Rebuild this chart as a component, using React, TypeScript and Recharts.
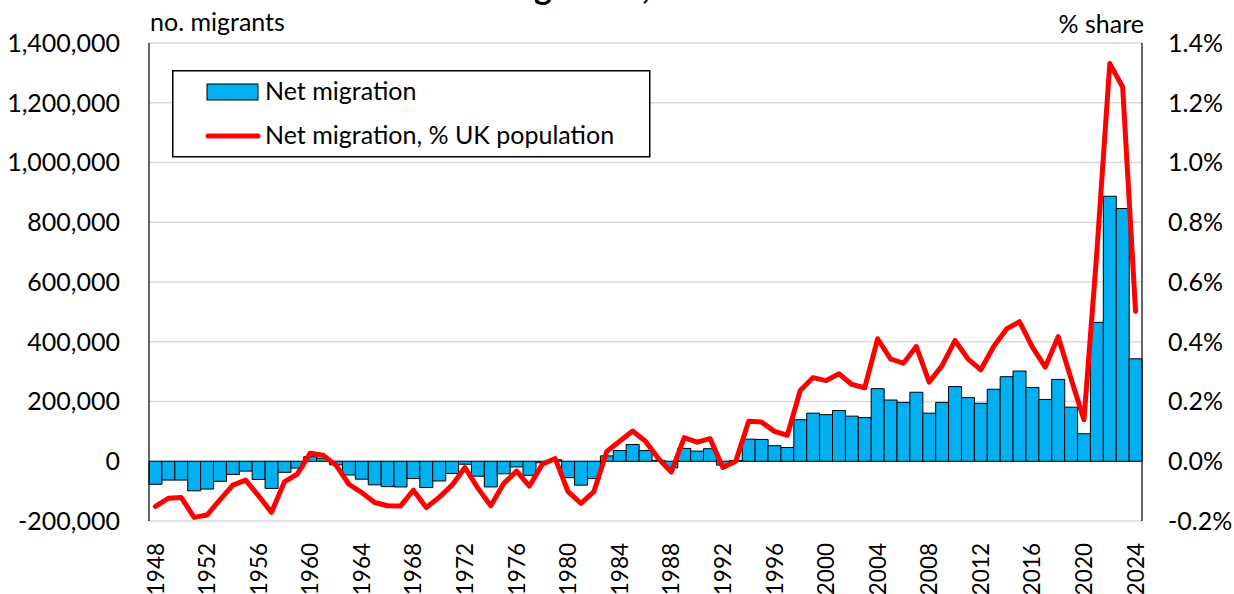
import React from 'react';
import {
  ComposedChart,
  Bar,
  Line,
  XAxis,
  YAxis,
  CartesianGrid,
  Legend,
} from 'recharts';

const FONT = 'Lato, "Open Sans", sans-serif';
const BLUE = '#00B0F0';
const RED = '#FF0000';

const years = [
  1948, 1949, 1950, 1951, 1952, 1953, 1954, 1955, 1956, 1957,
  1958, 1959, 1960, 1961, 1962, 1963, 1964, 1965, 1966, 1967,
  1968, 1969, 1970, 1971, 1972, 1973, 1974, 1975, 1976, 1977,
  1978, 1979, 1980, 1981, 1982, 1983, 1984, 1985, 1986, 1987,
  1988, 1989, 1990, 1991, 1992, 1993, 1994, 1995, 1996, 1997,
  1998, 1999, 2000, 2001, 2002, 2003, 2004, 2005, 2006, 2007,
  2008, 2009, 2010, 2011, 2012, 2013, 2014, 2015, 2016, 2017,
  2018, 2019, 2020, 2021, 2022, 2023, 2024,
];

// net migration, no. people
const netMigration = [
  -77000, -63000, -63000, -99000, -93000, -67000, -44000, -33000, -61000, -91000,
  -37000, -23000, 15000, 10000, -12000, -46000, -60000, -79000, -85000, -86000,
  -58000, -88000, -66000, -41000, -10000, -50000, -86000, -42000, -19000, -47000,
  -5000, 5000, -55000, -80000, -58000, 18000, 36000, 56000, 36000, 3000,
  -22000, 43000, 34000, 42000, -13000, 2000, 74000, 73000, 52000, 46000,
  139000, 161000, 156000, 170000, 151000, 146000, 243000, 205000, 197000, 231000,
  161000, 197000, 250000, 213000, 194000, 241000, 283000, 302000, 247000, 207000,
  274000, 181000, 92000, 465000, 887000, 846000, 343000,
];

// net migration as % of UK population
const sharePct = [
  -0.151, -0.124, -0.121, -0.188, -0.18, -0.129, -0.08, -0.063, -0.116, -0.171,
  -0.069, -0.043, 0.027, 0.02, -0.013, -0.077, -0.105, -0.138, -0.149, -0.15,
  -0.097, -0.155, -0.121, -0.08, -0.021, -0.09, -0.149, -0.075, -0.033, -0.083,
  -0.01, 0.009, -0.102, -0.141, -0.102, 0.033, 0.067, 0.101, 0.067, 0.009,
  -0.036, 0.079, 0.064, 0.076, -0.021, 0.0, 0.134, 0.131, 0.1, 0.087,
  0.237, 0.28, 0.27, 0.293, 0.257, 0.246, 0.41, 0.343, 0.328, 0.384,
  0.265, 0.32, 0.404, 0.343, 0.306, 0.384, 0.443, 0.467, 0.382, 0.315,
  0.417, 0.276, 0.139, 0.7, 1.331, 1.253, 0.502,
];

const leftTicks = [-200000, 0, 200000, 400000, 600000, 800000, 1000000, 1200000, 1400000];
const rightTicks = [-0.2, 0, 0.2, 0.4, 0.6, 0.8, 1.0, 1.2, 1.4];

const data = years.map((year, i) => ({
  year,
  migration: netMigration[i],
  share: sharePct[i],
}));

const fmtNumber = (v: number) => v.toLocaleString('en-US');
const fmtPct = (v: number) => `${v.toFixed(1)}%`;

function YearTick({ x, y, payload }: any) {
  return (
    <text
      transform={`translate(${x},${y + 20}) rotate(-90)`}
      textAnchor="end"
      dy="0.36em"
      fontSize={22.5}
      fontFamily={FONT}
      fill="#000"
    >
      {payload.value}
    </text>
  );
}

function LegendBox() {
  return (
    <svg width={479} height={88} style={{ display: 'block' }}>
      <rect x={0.75} y={0.75} width={477} height={86} fill="#fff" stroke="#000" strokeWidth={1.5} />
      <rect x={35} y={14} width={51} height={16} fill={BLUE} stroke="#000" strokeWidth={1} />
      <text x={93} y={30} fontSize={25} fontFamily={FONT} fill="#000">Net migration</text>
      <line x1={36} y1={66} x2={86} y2={66} stroke={RED} strokeWidth={5} strokeLinecap="round" />
      <text x={93} y={74} fontSize={25} fontFamily={FONT} fill="#000">Net migration, % UK population</text>
    </svg>
  );
}

export default function App() {
  return (
    <div style={{ position: 'absolute', left: 0, top: 0, width: 1234, height: 594, background: '#fff' }}>
      <ComposedChart
        width={1234}
        height={594}
        data={data}
        margin={{ top: 43, right: 0, bottom: 0, left: 0 }}
        barCategoryGap={0}
        barGap={0}
      >
        <CartesianGrid yAxisId="left" vertical={false} stroke="#d9d9d9" strokeWidth={1.5} />
        <XAxis
          dataKey="year"
          height={73}
          interval={3}
          axisLine={false}
          tickLine={false}
          tickSize={0}
          tick={<YearTick />}
        />
        <YAxis
          yAxisId="left"
          orientation="left"
          width={149}
          domain={[-200000, 1400000]}
          ticks={leftTicks}
          allowDataOverflow
          tickFormatter={fmtNumber}
          axisLine={{ stroke: '#000', strokeWidth: 1.2 }}
          tickLine={false}
          tickSize={0}
          tickMargin={29}
          tick={{ fontSize: 25, fontFamily: FONT, fill: '#000' }}
        />
        <YAxis
          yAxisId="right"
          orientation="right"
          width={92}
          domain={[-0.2, 1.4]}
          ticks={rightTicks}
          allowDataOverflow
          tickFormatter={fmtPct}
          axisLine={{ stroke: '#000', strokeWidth: 1.2 }}
          tickLine={false}
          tickSize={0}
          tickMargin={26}
          tick={{ fontSize: 25, fontFamily: FONT, fill: '#000' }}
        />
        <Legend
          layout="horizontal"
          verticalAlign="middle"
          align="center"
          content={() => <LegendBox />}
          wrapperStyle={{ position: 'absolute', left: 172, top: 70, width: 479, height: 88 }}
        />
        <Bar
          yAxisId="left"
          dataKey="migration"
          name="Net migration"
          fill={BLUE}
          stroke="#000"
          strokeWidth={1}
          isAnimationActive={false}
        />
        <Line
          yAxisId="right"
          dataKey="share"
          name="Net migration, % UK population"
          type="linear"
          stroke={RED}
          strokeWidth={5}
          strokeLinejoin="round"
          strokeLinecap="round"
          dot={false}
          activeDot={false}
          isAnimationActive={false}
        />
      </ComposedChart>
      <svg
        width={1234}
        height={40}
        style={{ position: 'absolute', left: 0, top: 0, pointerEvents: 'none' }}
      >
        {/* title sits above the visible frame in the source image, only its descenders show */}
        <text x={382} y={-1} fontSize={34} fontWeight="bold" fontFamily={FONT} fill="#000">
          UK net migration, 1948-2024
        </text>
        <text x={150} y={31} fontSize={25} fontFamily={FONT} fill="#000">no. migrants</text>
        <text x={1144} y={33} textAnchor="end" fontSize={25} fontFamily={FONT} fill="#000">% share</text>
      </svg>
    </div>
  );
}
